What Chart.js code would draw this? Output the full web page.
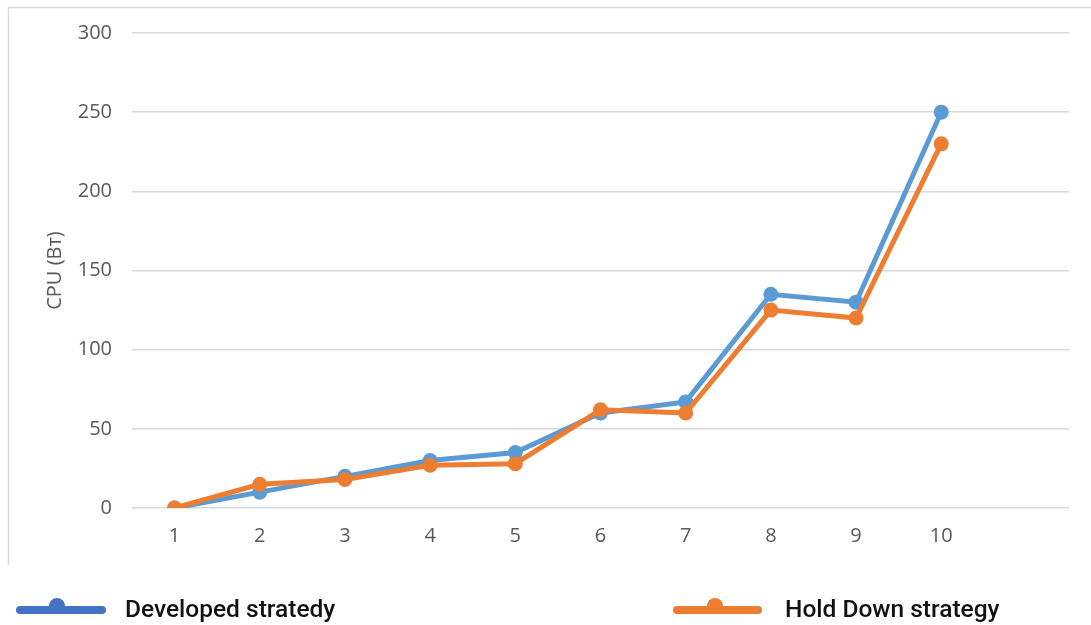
<!DOCTYPE html>
<html>
<head>
<meta charset="utf-8">
<script src="https://cdn.jsdelivr.net/npm/chart.js@4.4.1/dist/chart.umd.min.js"></script>
<style>
  html, body { margin: 0; padding: 0; background: #ffffff; }
  #wrap { position: relative; width: 1091px; height: 625px; }
</style>
</head>
<body>
<div id="wrap"><canvas id="cpu" width="1091" height="625"></canvas></div>
<script>
// Run numbers 1..10 plus one empty trailing slot on the category axis
const runLabels = ['1', '2', '3', '4', '5', '6', '7', '8', '9', '10', ''];
const developedValues = [0, 10, 20, 30, 35, 60, 67, 135, 130, 250];
const holdDownValues = [0, 15, 18, 27, 28, 62, 60, 125, 120, 230];
const yTicks = [0, 50, 100, 150, 200, 250, 300];
const seriesNames = ['Developed stratedy', 'Hold Down strategy'];
const axisTitle = 'CPU (Вт)';

const lineBlue = '#5B9BD5';
const keyBlue = '#4472C4';
const lineOrange = '#ED7D31';
const labelFont = 'Open Sans';
const keyFont = 'Roboto';

// Frame around the plot and a hand-laid legend row under it
const framePlugin = {
  id: 'frameAndKey',
  beforeDraw(chart) {
    const ctx = chart.ctx;
    ctx.save();
    ctx.strokeStyle = '#d9d9d9';
    ctx.lineWidth = 1.5;
    ctx.beginPath();
    ctx.moveTo(8.5, 565);
    ctx.lineTo(8.5, 7.5);
    ctx.lineTo(1091, 7.5);
    ctx.stroke();
    ctx.restore();
  },
  afterDraw(chart) {
    const ctx = chart.ctx;
    const items = [
      { name: chart.data.datasets[0].label, color: keyBlue, x0: 20, x1: 102, dot: 57, tx: 125 },
      { name: chart.data.datasets[1].label, color: lineOrange, x0: 677, x1: 758, dot: 715, tx: 785 }
    ];
    const y = 610;
    ctx.save();
    items.forEach(it => {
      ctx.strokeStyle = it.color;
      ctx.lineWidth = 8;
      ctx.lineCap = 'round';
      ctx.beginPath();
      ctx.moveTo(it.x0, y);
      ctx.lineTo(it.x1, y);
      ctx.stroke();
      ctx.fillStyle = it.color;
      ctx.beginPath();
      ctx.arc(it.dot, y - 4, 8, 0, Math.PI * 2);
      ctx.fill();
      ctx.fillStyle = '#111111';
      ctx.font = '500 24.5px ' + keyFont;
      ctx.textBaseline = 'alphabetic';
      ctx.textAlign = 'left';
      ctx.fillText(it.name, it.tx, 617);
    });
    ctx.restore();
  }
};

function build() {
  new Chart(document.getElementById('cpu'), {
    type: 'line',
    data: {
      labels: runLabels,
      datasets: [
        {
          label: seriesNames[0],
          data: developedValues,
          borderColor: lineBlue,
          backgroundColor: lineBlue,
          borderWidth: 5,
          pointRadius: 7.5,
          pointHoverRadius: 7.5,
          pointBorderWidth: 0,
          tension: 0,
          order: 1
        },
        {
          label: seriesNames[1],
          data: holdDownValues,
          borderColor: lineOrange,
          backgroundColor: lineOrange,
          borderWidth: 5,
          pointRadius: 7.5,
          pointHoverRadius: 7.5,
          pointBorderWidth: 0,
          tension: 0,
          order: 0
        }
      ]
    },
    options: {
      responsive: false,
      animation: false,
      events: [],
      layout: { padding: { top: 33, right: 22, bottom: 0, left: 0 } },
      plugins: {
        legend: { display: false },
        tooltip: { enabled: false }
      },
      scales: {
        x: {
          offset: true,
          grid: { display: false, drawTicks: false },
          border: { display: false },
          ticks: {
            color: '#595959',
            font: { family: labelFont, size: 20 },
            padding: 16,
            maxRotation: 0,
            autoSkip: false
          },
          afterFit(scale) { scale.height = 117; }
        },
        y: {
          min: 0,
          max: 300,
          afterBuildTicks(scale) { scale.ticks = yTicks.map(v => ({ value: v })); },
          grid: { color: '#d9d9d9', lineWidth: 1.5, drawTicks: false },
          border: { display: false },
          ticks: {
            color: '#595959',
            font: { family: labelFont, size: 20 },
            padding: 20
          },
          title: {
            display: true,
            text: axisTitle,
            color: '#595959',
            font: { family: labelFont, size: 20 },
            padding: { top: 43, bottom: 0 }
          },
          afterFit(scale) { scale.width = 132; }
        }
      }
    },
    plugins: [framePlugin]
  });
}

Promise.all([
  document.fonts.load('20px "' + labelFont + '"', 'CPU (Вт) 0123456789'),
  document.fonts.load('500 24.5px ' + keyFont, 'Developed stratedy')
]).then(build, build);
</script>
</body>
</html>
